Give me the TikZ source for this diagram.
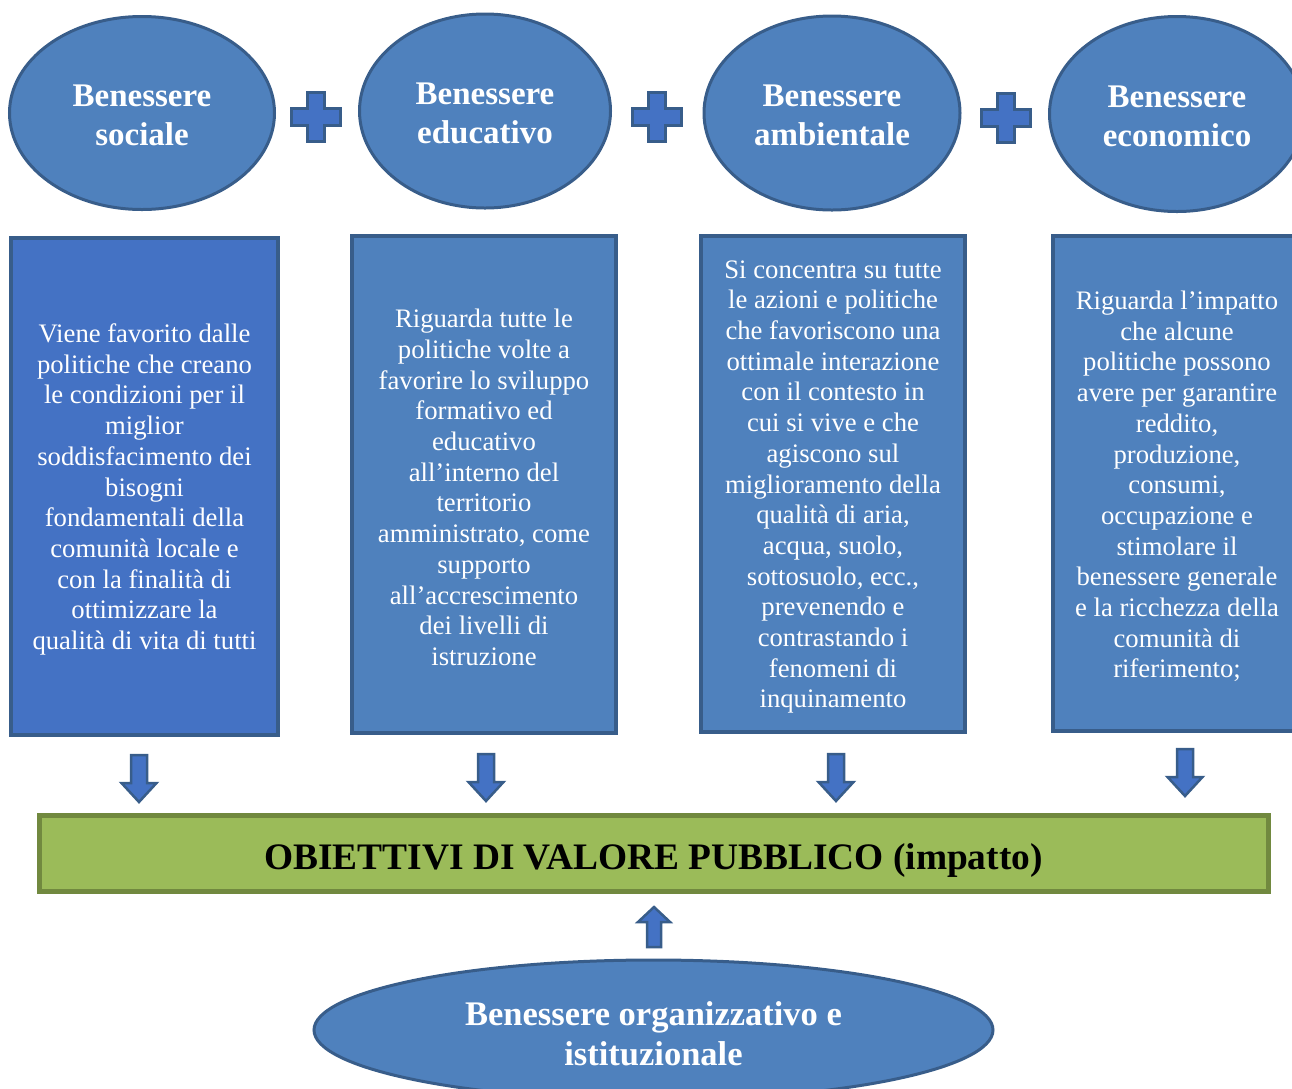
\documentclass[tikz,border=0pt]{standalone}
\usepackage{fontspec}
\setmainfont{Liberation Serif}
\usepackage{tikz}
\usetikzlibrary{shapes.geometric}
\definecolor{azzurro}{HTML}{4F81BD}
\definecolor{bluvivo}{HTML}{4472C4}
\definecolor{blubordo}{HTML}{385D8A}
\definecolor{verde}{HTML}{9BBB59}
\definecolor{verdebordo}{HTML}{71893F}
\tikzset{
  bolla/.style={ellipse, draw=blubordo, line width=3pt, fill=azzurro, inner sep=0pt},
  titolo/.style={text=white, align=center, inner sep=0pt, yshift=-2pt,
    font=\fontsize{33}{39}\selectfont\bfseries},
  scheda/.style={rectangle, draw=blubordo, line width=3.5pt, fill=azzurro, inner sep=0pt},
  testo/.style={text=white, align=center, inner sep=0pt, yshift=-3pt,
    font=\fontsize{26.7}{30.7}\selectfont},
  barra/.style={rectangle, draw=verdebordo, line width=5pt, fill=verde, inner sep=0pt},
  forma/.style={fill=bluvivo, draw=blubordo, line width=2.5pt, line join=miter},
  pics/piu/.style={code={
    \filldraw[forma] (-8.5,-24.5) -- (8.5,-24.5) -- (8.5,-8.5) -- (24.5,-8.5) -- (24.5,8.5)
      -- (8.5,8.5) -- (8.5,24.5) -- (-8.5,24.5) -- (-8.5,8.5) -- (-24.5,8.5) -- (-24.5,-8.5)
      -- (-8.5,-8.5) -- cycle;}},
  pics/giu/.style={code={
    \filldraw[forma] (-8,0) -- (8,0) -- (8,28) -- (17.5,28) -- (0,47) -- (-17.5,28) -- (-8,28) -- cycle;}},
  pics/su/.style={code={
    \filldraw[forma] (-7,40) -- (7,40) -- (7,15) -- (16,15) -- (0,0) -- (-16,15) -- (-7,15) -- cycle;}},
}
\begin{document}
\begin{tikzpicture}[x=1pt, y=-1pt]
  \useasboundingbox (0,0) rectangle (1292,1088);
  \clip (0,0) rectangle (1292,1088);
  % le quattro dimensioni
  \node[bolla, minimum width=265pt, minimum height=193pt] (sociale)   at (142,113) {};
  \node[titolo] at (sociale.center) {Benessere\\sociale};
  \node[bolla, minimum width=251pt, minimum height=194pt] (educativo) at (485,111) {};
  \node[titolo] at (educativo.center) {Benessere\\educativo};
  \node[bolla, minimum width=256pt, minimum height=194pt] (ambiente)  at (832,113) {};
  \node[titolo] at (ambiente.center) {Benessere\\ambientale};
  \node[bolla, minimum width=255pt, minimum height=195pt] (economico) at (1177,114) {};
  \node[titolo] at (economico.center) {Benessere\\economico};
  \pic at (316,117) {piu};
  \pic at (657,117) {piu};
  \pic at (1006,118) {piu};
  % le descrizioni
  \node[scheda, fill=bluvivo, minimum width=267pt, minimum height=497pt] (dsoc) at (144.5,486.5) {};
  \node[testo] at (dsoc.center)
    {Viene favorito dalle\\politiche che creano\\le condizioni per il\\miglior\\soddisfacimento dei\\bisogni\\fondamentali della\\comunità locale e\\con la finalità di\\ottimizzare la\\qualità di vita di tutti};
  \node[scheda, minimum width=264pt, minimum height=497pt] (dedu) at (484,484.5) {};
  \node[testo] at (dedu.center)
    {Riguarda tutte le\\politiche volte a\\favorire lo sviluppo\\formativo ed\\educativo\\all’interno del\\territorio\\amministrato, come\\supporto\\all’accrescimento\\dei livelli di\\istruzione};
  \node[scheda, minimum width=264pt, minimum height=496pt] (damb) at (833,484) {};
  \node[testo] at (damb.center)
    {Si concentra su tutte\\le azioni e politiche\\che favoriscono una\\ottimale interazione\\con il contesto in\\cui si vive e che\\agiscono sul\\miglioramento della\\qualità di aria,\\acqua, suolo,\\sottosuolo, ecc.,\\prevenendo e\\contrastando i\\fenomeni di\\inquinamento};
  \node[scheda, minimum width=248pt, minimum height=495pt] (deco) at (1177,483.5) {};
  \node[testo] at (deco.center)
    {Riguarda l’impatto\\che alcune\\politiche possono\\avere per garantire\\reddito,\\produzione,\\consumi,\\occupazione e\\stimolare il\\benessere generale\\e la ricchezza della\\comunità di\\riferimento;};
  \pic at (139,755) {giu};
  \pic at (486,754) {giu};
  \pic at (836,754) {giu};
  \pic at (1185,749) {giu};
  % obiettivi
  \node[barra, minimum width=1229pt, minimum height=76pt] (obiettivi) at (653.5,853) {};
  \node[titolo, text=black, yshift=-5pt, font=\fontsize{37.4}{42}\selectfont\bfseries]
    at (obiettivi.center) {OBIETTIVI DI VALORE PUBBLICO (impatto)};
  \pic at (654,907) {su};
  \node[bolla, minimum width=679pt, minimum height=140pt] (organizz) at (653.5,1030) {};
  \node[titolo, yshift=-2pt, font=\fontsize{34.5}{40}\selectfont\bfseries]
    at (organizz.center) {Benessere organizzativo e\\istituzionale};
\end{tikzpicture}
\end{document}
